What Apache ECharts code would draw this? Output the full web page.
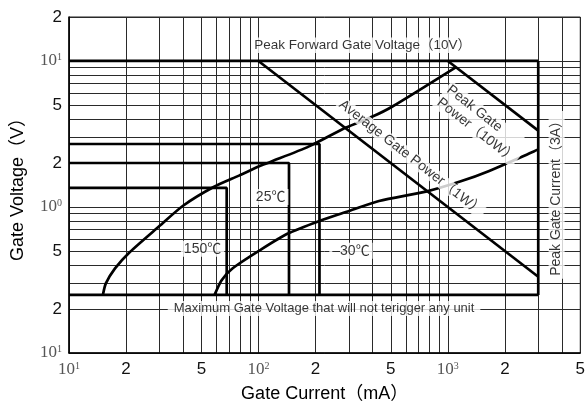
<!DOCTYPE html>
<html>
<head>
<meta charset="utf-8">
<script src="https://cdn.jsdelivr.net/npm/echarts@6/dist/echarts.min.js"></script>
<style>
html, body { margin: 0; padding: 0; background: #fff; }
#chart { width: 588px; height: 408px; }
</style>
</head>
<body>
<div id="chart"></div>
<script>
// tick labels and grid lines (mA / V)
var xLabelValues = [10, 20, 50, 100, 200, 500, 1000, 2000, 5000]
var yLabelValues = [0.1, 0.2, 0.5, 1, 2, 5, 10, 20]
var xGridValues = [10, 20, 30, 40, 50, 60, 70, 80, 90, 100, 200, 300, 400, 500, 600, 700, 800, 900, 1000, 2000, 3000, 4000, 5000]
var yGridValues = [0.1, 0.2, 0.3, 0.4, 0.5, 0.6, 0.7, 0.8, 0.9, 1, 2, 3, 4, 5, 6, 7, 8, 9, 10, 20]

// boundary lines [current mA, voltage V]
var peakForwardVoltage = [[10, 10], [3000, 10]]
var peakGateCurrent = [[3000, 10], [3000, 0.25]]
var maxNonTrigger = [[10, 0.25], [3000, 0.25]]
var averagePower = [[100, 10], [3000, 0.333]]
var peakPower = [[1000, 10], [3000, 3.333]]
var trigMinus30 = [[10, 2.7], [210, 2.7], [210, 0.25]]
var trig25 = [[10, 2], [145, 2], [145, 0.25]]
var trig150 = [[10, 1.35], [68, 1.35], [68, 0.25]]

// gate characteristic curves
var upperCurve = [[15.1, 0.25], [15.65, 0.3], [17.5, 0.38], [20.9, 0.49], [30, 0.74], [40, 1.02], [58, 1.37], [79, 1.64], [101, 1.9], [114, 2.02], [185, 2.6], [290, 3.5], [400, 4.16], [507, 4.86], [1100, 9.05]]
var lowerCurve = [[58.7, 0.25], [63.8, 0.314], [72.9, 0.379], [101, 0.502], [142, 0.655], [210, 0.803], [301, 0.939], [433, 1.1], [775, 1.28], [1170, 1.5], [1640, 1.76], [2840, 2.4], [3000, 2.48]]

// annotation texts
var noteTexts = ['Peak Forward Gate Voltage（10V）', 'Average Gate Power（1W）', 'Peak Gate\nPower（10W）', 'Peak Gate Current（3A）', 'Maximum Gate Voltage that will not terigger any unit', '150℃', '25℃', '–30℃']

var sansFont = '"Liberation Sans", Arial, "Noto Sans CJK SC", sans-serif'
var serifFont = '"Liberation Serif", "DejaVu Serif", serif'

function tickLabel(v) {
  var e = Math.round(Math.log10(v))
  if (Math.abs(v - Math.pow(10, e)) < 1e-9 * Math.max(1, v)) {
    return '{t|10}{s|' + Math.abs(e) + '}'
  }
  return '{n|' + Math.round(v / Math.pow(10, Math.floor(Math.log10(v) + 1e-9))) + '}'
}

var labelRich = {
  t: { fontFamily: serifFont, fontSize: 17, color: '#555' },
  s: { fontFamily: serifFont, fontSize: 10, color: '#555', verticalAlign: 'top' },
  n: { fontFamily: sansFont, fontSize: 17, color: '#111' }
}

function thick(data, smooth) {
  return {
    type: 'line',
    data: data,
    smooth: smooth || false,
    showSymbol: false,
    symbol: 'none',
    lineStyle: { color: '#000', width: 2.7 },
    z: 3,
    silent: true
  }
}

function note(pos, i, extra) {
  var label = {
    show: true,
    position: 'inside',
    formatter: noteTexts[i],
    fontFamily: sansFont,
    fontSize: 13,
    color: '#000',
    backgroundColor: '#fff',
    padding: [1, 3]
  }
  for (var k in extra) label[k] = extra[k]
  return { value: pos, label: label }
}

var chart = echarts.init(document.getElementById('chart'))
chart.setOption({
  animation: false,
  grid: { left: 69, right: 5, top: 17, bottom: 51, show: true, borderColor: '#222', borderWidth: 1 },
  xAxis: {
    type: 'log',
    logBase: 10,
    min: 10,
    max: 5000,
    name: 'Gate Current（mA）',
    nameLocation: 'middle',
    nameGap: 32,
    nameTextStyle: { fontFamily: sansFont, fontSize: 18, color: '#000' },
    axisLine: { lineStyle: { color: '#000', width: 1.5 } },
    axisTick: { show: true, length: 0, customValues: xGridValues },
    axisLabel: { customValues: xLabelValues, formatter: tickLabel, rich: labelRich, margin: 8 },
    splitLine: { show: true, lineStyle: { color: '#2a2a2a', width: 1 } }
  },
  yAxis: {
    type: 'log',
    logBase: 10,
    min: 0.1,
    max: 20,
    name: 'Gate Voltage（V）',
    nameLocation: 'middle',
    nameGap: 42,
    nameTextStyle: { fontFamily: sansFont, fontSize: 18, color: '#000' },
    axisLine: { lineStyle: { color: '#000', width: 1.5 } },
    axisTick: { show: true, length: 0, customValues: yGridValues },
    axisLabel: { customValues: yLabelValues, formatter: tickLabel, rich: labelRich, margin: 7 },
    splitLine: { show: true, lineStyle: { color: '#2a2a2a', width: 1 } }
  },
  series: [
    thick(peakForwardVoltage),
    thick(peakGateCurrent),
    thick(maxNonTrigger),
    thick(averagePower),
    thick(peakPower),
    thick(trigMinus30),
    thick(trig25),
    thick(trig150),
    thick(upperCurve, 0.25),
    thick(lowerCurve, 0.25),
    {
      type: 'scatter',
      symbolSize: 0,
      z: 5,
      silent: true,
      data: [
        note([355, 12.8], 0, { fontSize: 13.5 }),
        note([640, 2.17], 1, { rotate: -38, fontSize: 14, padding: [0, 2] }),
        note([930, 6.0], 2, { rotate: -38, fontSize: 14, align: 'left', lineHeight: 16, padding: [0, 2] }),
        note([3750, 1.21], 3, { rotate: 90, fontSize: 14 }),
        note([222, 0.202], 4, { padding: [1, 6] }),
        note([50.7, 0.518], 5, { fontSize: 14 }),
        note([116, 1.17], 6, { fontSize: 14 }),
        note([308, 0.502], 7, { fontSize: 14 })
      ]
    }
  ]
})
</script>
</body>
</html>
